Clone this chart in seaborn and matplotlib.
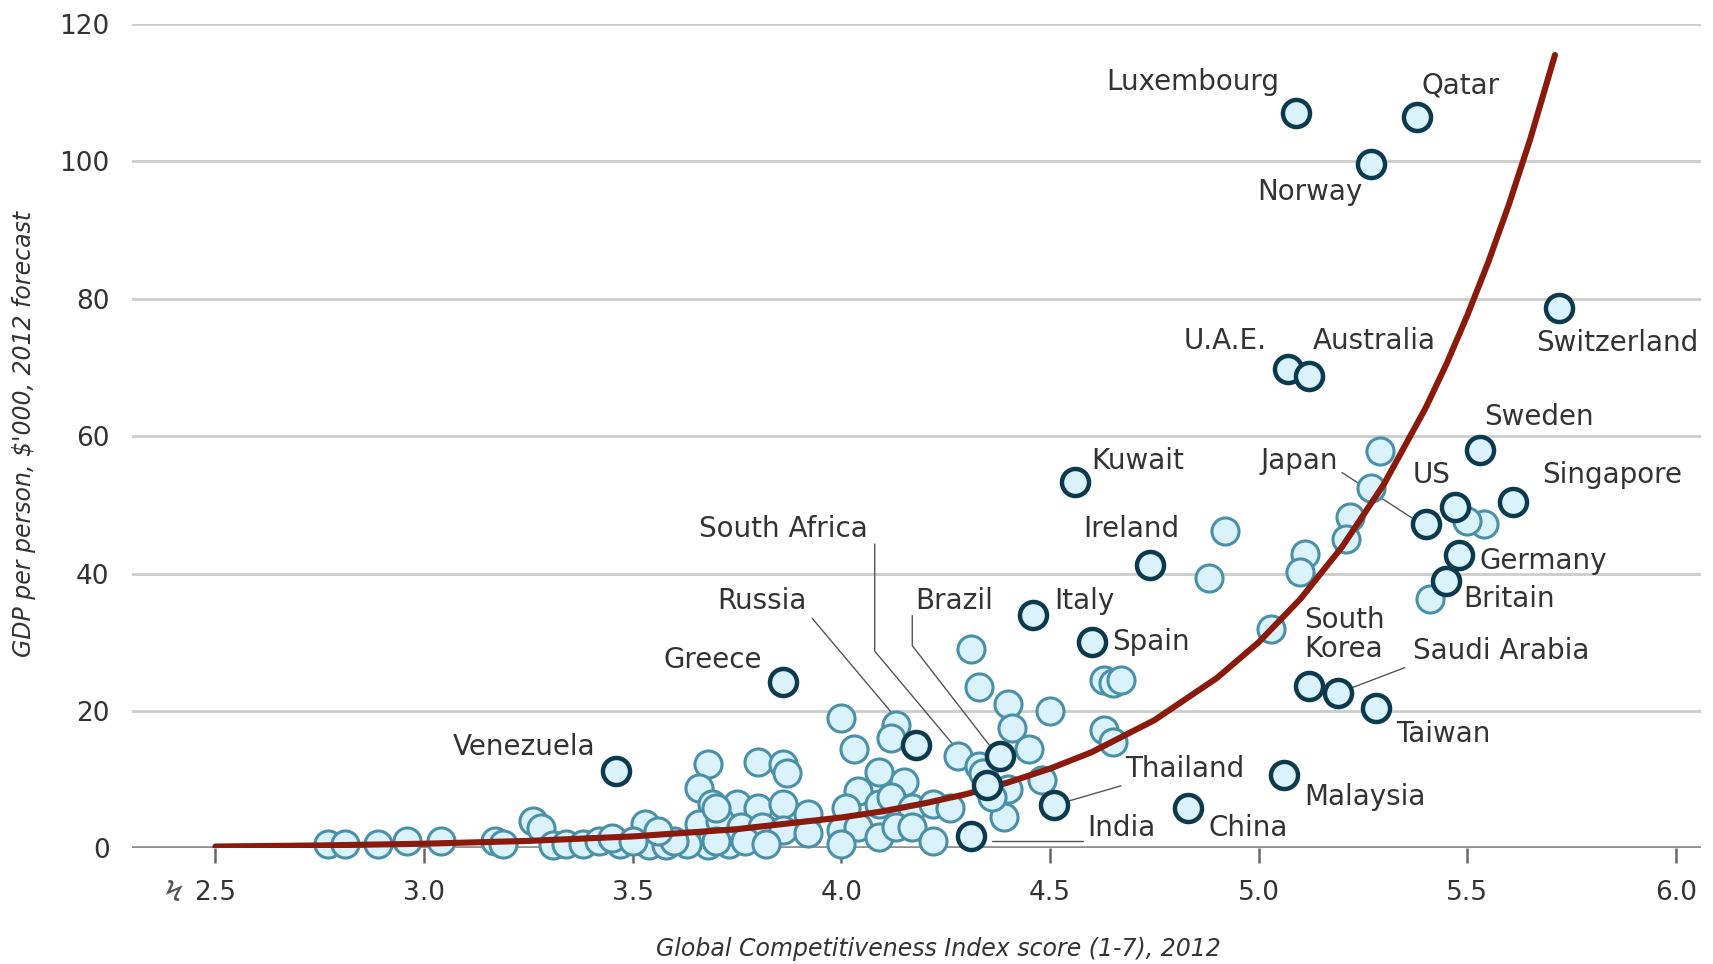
import matplotlib
matplotlib.use("Agg")
import matplotlib.pyplot as plt
import seaborn as sns
import pandas as pd

# Labelled countries: GCI score and GDP per person ($'000)
names = ["Luxembourg", "Qatar", "Norway", "Switzerland", "U.A.E.", "Australia",
         "Sweden", "Kuwait", "Singapore", "US", "Japan", "Germany", "Britain",
         "Ireland", "Italy", "Spain", "Greece", "South Korea", "Saudi Arabia",
         "Taiwan", "Venezuela", "Russia", "Brazil", "South Africa", "Thailand",
         "India", "China", "Malaysia"]
named_gci = [5.09, 5.38, 5.27, 5.72, 5.07, 5.12, 5.53, 4.56, 5.61, 5.47, 5.40, 5.48,
             5.45, 4.74, 4.46, 4.60, 3.86, 5.12, 5.19, 5.28, 3.46, 4.18, 4.38, 4.35,
             4.51, 4.31, 4.83, 5.06]
named_gdp = [107.0, 106.5, 99.6, 78.7, 69.8, 68.8, 58.0, 53.4, 50.4, 49.7, 47.2, 42.7,
             38.9, 41.3, 33.9, 30.1, 24.2, 23.6, 22.6, 20.4, 11.2, 15.0, 13.5, 9.2,
             6.3, 1.8, 5.9, 10.7]

# Other countries (unlabelled)
other_gci = [5.29, 5.27, 5.22, 5.21, 5.11, 5.10, 4.92, 4.88, 5.03, 5.54, 5.50, 5.41,
             4.63, 4.65, 4.67, 4.63, 4.65,
             4.31, 4.33, 4.40, 4.50, 4.41, 4.45, 4.28, 4.33, 4.40, 4.48, 4.39, 4.00,
             4.03, 4.13, 4.12, 4.09, 4.15, 3.68, 3.80, 3.86, 3.87, 4.04, 4.34, 4.36,
             3.66, 3.69, 3.75, 3.80, 3.86, 3.92, 4.01, 4.09, 4.12, 4.17, 4.22, 4.26,
             3.66, 3.71, 3.76, 3.81, 3.86, 3.92, 4.00, 4.04, 4.09, 4.13, 4.17, 4.22,
             3.68, 3.73, 3.77, 3.82, 4.00,
             2.77, 2.81, 2.89, 2.96, 3.04, 3.17, 3.19, 3.26, 3.28, 3.31, 3.34, 3.38,
             3.42, 3.47, 3.53, 3.54, 3.58, 3.63, 3.70, 3.70, 3.45, 3.50, 3.60, 3.56]
other_gdp = [57.8, 52.4, 48.3, 45.0, 42.8, 40.3, 46.2, 39.4, 31.9, 47.2, 47.7, 36.3,
             24.5, 24.0, 24.5, 17.2, 15.5,
             29.0, 23.5, 21.0, 20.0, 17.5, 14.5, 13.5, 12.0, 8.7, 10.0, 4.5, 19.0,
             14.5, 18.0, 16.0, 11.1, 9.6, 12.3, 12.5, 12.3, 11.0, 8.4, 11.0, 7.5,
             8.8, 6.5, 6.5, 5.9, 6.5, 5.0, 5.9, 6.5, 7.4, 5.9, 6.5, 5.9,
             3.6, 4.0, 3.1, 3.1, 2.6, 2.2, 2.6, 3.1, 1.6, 3.1, 3.1, 1.1,
             0.5, 0.7, 1.1, 0.7, 0.7,
             0.7, 0.7, 0.7, 1.1, 1.1, 1.1, 0.6, 4.0, 3.0, 0.5, 0.6, 0.6,
             1.1, 0.6, 3.5, 0.5, 0.5, 0.6, 5.9, 1.1, 1.5, 1.0, 1.0, 2.5]

# Trend curve
curve_gci = [2.5, 2.75, 3.0, 3.25, 3.5, 3.75, 4.0, 4.1, 4.2, 4.3, 4.4, 4.5, 4.6,
             4.75, 4.9, 5.0, 5.1, 5.2, 5.3, 5.4, 5.45, 5.5, 5.55, 5.6, 5.65, 5.71]
curve_gdp = [0.26, 0.42, 0.67, 1.08, 1.73, 2.79, 4.49, 5.4, 6.56, 7.9, 9.6, 11.6,
             14.0, 18.65, 24.8, 30.0, 36.3, 43.9, 53.0, 64.1, 70.5, 77.6, 85.3,
             93.8, 103.1, 115.5]

x_ticks = [2.5, 3.0, 3.5, 4.0, 4.5, 5.0, 5.5, 6.0]
y_ticks = [0, 20, 40, 60, 80, 100, 120]

# label text: (x, y, ha)
label_pos = {
    "Luxembourg": (5.05, 111.5, "right"), "Qatar": (5.39, 111.0, "left"),
    "Norway": (5.25, 95.6, "right"), "Switzerland": (5.86, 73.6, "center"),
    "U.A.E.": (5.02, 73.9, "right"), "Australia": (5.13, 73.9, "left"),
    "Sweden": (5.54, 62.8, "left"), "Kuwait": (4.60, 56.4, "left"),
    "Japan": (5.19, 56.4, "right"), "US": (5.37, 54.3, "left"),
    "Singapore": (5.68, 54.3, "left"), "Ireland": (4.81, 46.5, "right"),
    "Germany": (5.53, 41.9, "left"), "Britain": (5.49, 36.3, "left"),
    "Italy": (4.51, 36.0, "left"), "Spain": (4.65, 30.1, "left"),
    "South Africa": (3.86, 46.5, "center"), "Russia": (3.81, 36.0, "center"),
    "Brazil": (4.27, 36.0, "center"), "Greece": (3.81, 27.4, "right"),
    "South\nKorea": (5.11, 31.1, "left"), "Saudi Arabia": (5.37, 28.7, "left"),
    "Taiwan": (5.33, 16.7, "left"), "Venezuela": (3.41, 14.7, "right"),
    "Thailand": (4.68, 11.5, "left"), "Malaysia": (5.11, 7.5, "left"),
    "India": (4.59, 2.9, "left"), "China": (4.88, 2.9, "left"),
}

leaders = [
    ([5.20, 5.38], [54.7, 47.6]),                 # Japan
    ([5.35, 5.22], [26.3, 23.3]),                 # Saudi Arabia
    ([4.67, 4.54], [9.1, 6.8]),                   # Thailand
    ([4.36, 4.58], [1.1, 1.1]),                   # India
    ([3.93, 4.16], [33.5, 16.9]),                 # Russia
    ([4.08, 4.08, 4.33], [44.3, 28.7, 10.6]),     # South Africa
    ([4.17, 4.17, 4.36], [33.9, 29.5, 14.6]),     # Brazil
]

named = pd.DataFrame({"gci": named_gci, "gdp": named_gdp, "name": names})
others = pd.DataFrame({"gci": other_gci, "gdp": other_gdp})
curve = pd.DataFrame({"gci": curve_gci, "gdp": curve_gdp})

sns.set_theme(style="white")
plt.rcParams["font.family"] = ["DejaVu Sans"]
text_col = "#333333"

fig = plt.figure(figsize=(17.13, 9.64), dpi=100)
ax = fig.add_axes([0.077, 0.12, 0.916, 0.855])
ax.set_xlim(2.30, 6.06)
ax.set_ylim(0, 120)

for yv in y_ticks:
    ax.axhline(yv, color="#8f8f8f" if yv == 0 else "#cccccc",
               lw=2.6 if yv == 0 else 2.0, zorder=1)

face = "#daf2fb"
sns.scatterplot(data=others, x="gci", y="gdp", ax=ax, s=380, color=face,
                edgecolor="#4a90a8", linewidth=2.2, zorder=3, clip_on=False)
sns.lineplot(data=curve, x="gci", y="gdp", ax=ax, sort=False, estimator=None,
             color="#8a1a0c", lw=4.4, zorder=4)
sns.scatterplot(data=named, x="gci", y="gdp", ax=ax, s=380, color=face,
                edgecolor="#0b3a4e", linewidth=3.2, zorder=5, clip_on=False)

for lx, ly in leaders:
    ax.plot(lx, ly, color="#555555", lw=1.0, zorder=2)

for txt, (tx, ty, ha) in label_pos.items():
    ax.text(tx, ty, txt, ha=ha, va="center", fontsize=20, color=text_col,
            zorder=6, linespacing=1.05)

sns.despine(ax=ax, left=True, bottom=True, right=True, top=True)
ax.set_xticks(x_ticks)
ax.set_xticklabels([f"{v:.1f}" for v in x_ticks])
ax.set_yticks(y_ticks)
ax.set_yticklabels([str(v) for v in y_ticks])
ax.tick_params(axis="x", which="major", bottom=True, direction="out",
               length=11, width=1.8, color="#666666", pad=12,
               labelsize=19, labelcolor=text_col)
ax.tick_params(axis="y", left=False, pad=10, labelsize=19, labelcolor=text_col)
ax.grid(False)
ax.set_xlabel("")
ax.set_ylabel("")

# axis break mark just left of the first tick label
fig.canvas.draw()
bb = ax.get_xticklabels()[0].get_window_extent()
fig.text((bb.x0 - 22) / fig.bbox.width, (bb.y0 + bb.y1) / 2 / fig.bbox.height,
         "Ϟ", ha="center", va="center", fontsize=21, color="#555555",
         style="italic")

fig.text(0.548, 0.016, "Global Competitiveness Index score (1-7), 2012",
         ha="center", va="center", fontsize=17, style="italic", color=text_col)
fig.text(0.014, 0.55, "GDP per person, $'000, 2012 forecast", ha="center",
         va="center", rotation=90, fontsize=17, style="italic", color=text_col)

fig.savefig("out.png", dpi=100, facecolor="white")
